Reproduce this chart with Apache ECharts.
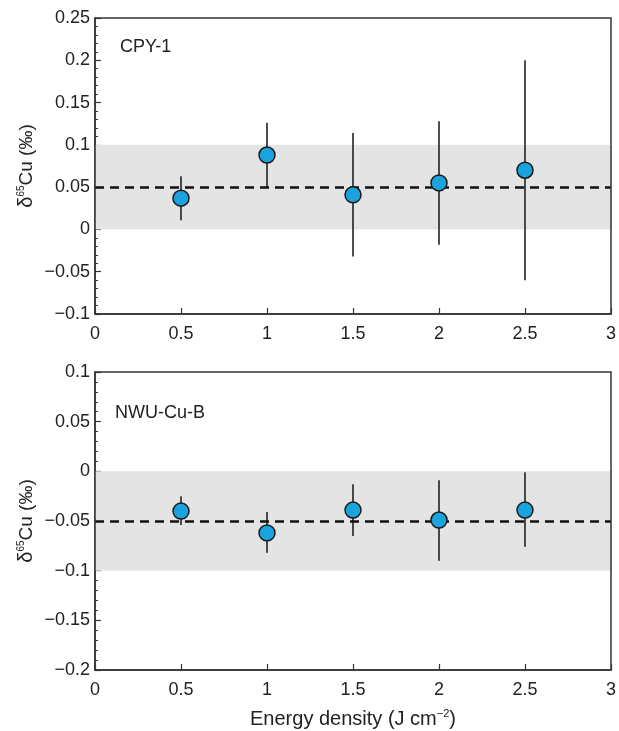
<!DOCTYPE html>
<html><head><meta charset="utf-8">
<script src="https://cdn.jsdelivr.net/npm/echarts@6/dist/echarts.min.js"></script>
<style>html,body{margin:0;padding:0;background:#fff}#c{width:619px;height:731px}</style>
</head><body><div id="c"></div>
<script>
var energy = [0.5, 1, 1.5, 2, 2.5];
var cpyMean = [0.037, 0.088, 0.041, 0.055, 0.070];
var cpyLow  = [0.011, 0.049, -0.032, -0.018, -0.060];
var cpyHigh = [0.063, 0.126, 0.114, 0.128, 0.200];
var nwuMean = [-0.040, -0.062, -0.039, -0.049, -0.039];
var nwuLow  = [-0.054, -0.082, -0.065, -0.090, -0.076];
var nwuHigh = [-0.025, -0.041, -0.013, -0.009, -0.001];
var cpyRef = 0.05, cpyBand = [0, 0.1];
var nwuRef = -0.05, nwuBand = [-0.1, 0];
var panelLabels = ['CPY-1', 'NWU-Cu-B'];

var FONT = 'Liberation Sans, Arial, sans-serif';
function fmtY(v){ var s = (Math.round(v*1000)/1000).toString(); return s.replace('-', '\u2212'); }
function fmtX(v){ return (Math.round(v*10)/10).toString(); }

function xAxis(gi, showName){
  return {
    type:'value', gridIndex:gi, min:0, max:3, interval:0.5,
    axisLine:{show:true, onZero:false, lineStyle:{color:'#333', width:1.5}},
    axisTick:{show:true, inside:true, length:6, lineStyle:{color:'#333', width:1.2}},
    axisLabel:{color:'#222', fontSize:18, fontFamily:FONT, margin:11, formatter:fmtX},
    splitLine:{show:false},
    name: showName ? '{n|Energy density (J cm}{s|\u22122}{n|)}' : '',
    nameLocation:'middle', nameGap:38, nameMoveOverlap:false,
    nameTextStyle:{rich:{
      n:{fontSize:20, fontFamily:FONT, color:'#222'},
      s:{fontSize:11, fontFamily:FONT, color:'#222', verticalAlign:'bottom', padding:[0,0,11,0]}
    }}
  };
}
function yAxis(gi, min, max){
  return {
    type:'value', gridIndex:gi, min:min, max:max, interval:0.05,
    axisLine:{show:true, onZero:false, lineStyle:{color:'#333', width:1.5}},
    axisTick:{show:true, inside:true, length:6, lineStyle:{color:'#333', width:1.2}},
    minorTick:{show:true, splitNumber:5, length:3, lineStyle:{color:'#333', width:1}},
    axisLabel:{color:'#222', fontSize:18, fontFamily:FONT, margin:5, formatter:fmtY},
    splitLine:{show:false},
    name:'{d|\u03b4}{s|65}{n|Cu (\u2030)}',
    nameLocation:'middle', nameGap:58, nameMoveOverlap:false,
    nameTextStyle:{rich:{
      d:{fontSize:20, fontFamily:FONT, color:'#222'},
      s:{fontSize:10, fontFamily:FONT, color:'#222', verticalAlign:'bottom', padding:[0,0,11,0]},
      n:{fontSize:19, fontFamily:FONT, color:'#222'}
    }}
  };
}
function errSeries(gi, low, high){
  var data = energy.map(function(x,i){ return [x, low[i], high[i]]; });
  return {
    type:'custom', xAxisIndex:gi, yAxisIndex:gi, z:3, silent:true,
    data:data,
    renderItem:function(params, api){
      var p1 = api.coord([api.value(0), api.value(1)]);
      var p2 = api.coord([api.value(0), api.value(2)]);
      return {type:'line', shape:{x1:p1[0], y1:p1[1], x2:p2[0], y2:p2[1]},
              style:{stroke:'#222', lineWidth:1.6}};
    }
  };
}
function pointSeries(gi, mean, ref, band){
  return {
    type:'scatter', xAxisIndex:gi, yAxisIndex:gi, z:5,
    symbol:'circle', symbolSize:16,
    itemStyle:{color:'#1ba3dd', borderColor:'#1a1a1a', borderWidth:1.5, opacity:1},
    data: energy.map(function(x,i){ return [x, mean[i]]; }),
    markArea:{silent:true, itemStyle:{color:'#e4e4e4'}, data:[[{yAxis:band[0]},{yAxis:band[1]}]]},
    markLine:{silent:true, symbol:'none', label:{show:false},
      lineStyle:{color:'#111', type:[9,6], width:2.6},
      data:[{yAxis:ref}]}
  };
}

var chart = echarts.init(document.getElementById('c'), null, {renderer:'canvas'});
chart.setOption({
  animation:false,
  backgroundColor:'#fff',
  grid:[
    {left:95, top:18, right:6, height:296, show:true, z:10, borderColor:'#333', borderWidth:1.5, backgroundColor:'transparent'},
    {left:95, top:372, right:6, height:298, show:true, z:10, borderColor:'#333', borderWidth:1.5, backgroundColor:'transparent'}
  ],
  xAxis:[xAxis(0,false), xAxis(1,true)],
  yAxis:[yAxis(0,-0.1,0.25), yAxis(1,-0.2,0.1)],
  graphic:[
    {type:'text', left:120, top:38, style:{text:panelLabels[0], font:'18px '+FONT, fill:'#222'}},
    {type:'text', left:115, top:404, style:{text:panelLabels[1], font:'18px '+FONT, fill:'#222'}}
  ],
  series:[
    errSeries(0, cpyLow, cpyHigh),
    pointSeries(0, cpyMean, cpyRef, cpyBand),
    errSeries(1, nwuLow, nwuHigh),
    pointSeries(1, nwuMean, nwuRef, nwuBand)
  ]
});
</script></body></html>
